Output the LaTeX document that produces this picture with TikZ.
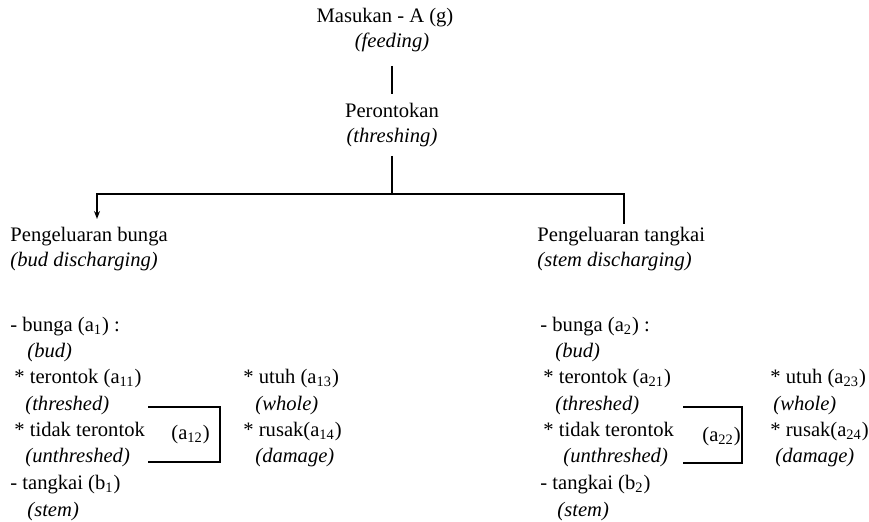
\documentclass[tikz,border=0pt]{standalone}
\usepackage{fontspec}
\setmainfont{Liberation Serif}
\usetikzlibrary{arrows.meta}

\begin{document}
\begin{tikzpicture}[x=0.5pt,y=-0.5pt,
  txt/.style={anchor=base west, inner sep=0pt, font=\fontsize{10.3}{12}\selectfont},
  mid/.style={anchor=base, inner sep=0pt, font=\fontsize{10.3}{12}\selectfont},
  line/.style={line width=0.9pt}]
  \useasboundingbox (0,0) rectangle (869,522);

  % the top of the tree
  \node[mid] (in) at (385,23) {Masukan - A (g)};
  \node[mid] (feed) at (392,48) {\textit{(feeding)}};
  \node[mid] (thr) at (392,118) {Perontokan};
  \node[mid] (thrE) at (392,143) {\textit{(threshing)}};

  % the two branches
  \node[txt] (lhead) at (10,242) {Pengeluaran bunga};
  \node[txt] (lheadE) at (10,267) {\textit{(bud discharging)}};
  \node[txt] (rhead) at (537,242) {Pengeluaran tangkai};
  \node[txt] (rheadE) at (537,267) {\textit{(stem discharging)}};

  % left list
  \node[txt] (l1) at (10,332) {- bunga (a\textsubscript{1}) :};
  \node[txt] (l1E) at (27,358) {\textit{(bud)}};
  \node[txt] (l11) at (14,384) {* terontok (a\textsubscript{11})};
  \node[txt] (l11E) at (25,411) {\textit{(threshed)}};
  \node[txt] (l12) at (14,437) {* tidak terontok};
  \node[txt] (l12E) at (25,463) {\textit{(unthreshed)}};
  \node[txt] (l2) at (10,490) {- tangkai (b\textsubscript{1})};
  \node[txt] (l2E) at (27,517) {\textit{(stem)}};
  \node[txt] (la12) at (171,440) {(a\textsubscript{12})};
  \node[txt] (l13) at (243,384) {* utuh (a\textsubscript{13})};
  \node[txt] (l13E) at (255,411) {\textit{(whole)}};
  \node[txt] (l14) at (243,437) {* rusak(a\textsubscript{14})};
  \node[txt] (l14E) at (255,463) {\textit{(damage)}};

  % right list
  \node[txt] (r1) at (540,332) {- bunga (a\textsubscript{2}) :};
  \node[txt] (r1E) at (555,358) {\textit{(bud)}};
  \node[txt] (r21) at (543,384) {* terontok (a\textsubscript{21})};
  \node[txt] (r21E) at (555,411) {\textit{(threshed)}};
  \node[txt] (r22) at (543,437) {* tidak terontok};
  \node[txt] (r22E) at (563,463) {\textit{(unthreshed)}};
  \node[txt] (r2) at (540,490) {- tangkai (b\textsubscript{2})};
  \node[txt] (r2E) at (557,517) {\textit{(stem)}};
  \node[txt] (ra22) at (702,442) {(a\textsubscript{22})};
  \node[txt] (r23) at (770,384) {* utuh (a\textsubscript{23})};
  \node[txt] (r23E) at (773,411) {\textit{(whole)}};
  \node[txt] (r24) at (770,437) {* rusak(a\textsubscript{24})};
  \node[txt] (r24E) at (775,463) {\textit{(damage)}};

  % ends of the lines
  \coordinate (join) at (392,194);
  \coordinate (lend) at (97,219);
  \coordinate (rend) at (624,224);
  \coordinate (lb1) at (148,407);
  \coordinate (lb2) at (148,462);
  \coordinate (rb1) at (683,407);
  \coordinate (rb2) at (683,463);

  % draw the lines
  \draw[line, shorten <=6.5pt, shorten >=4.5pt] (feed) -- (thr);
  \draw[line, shorten <=4pt] (thrE.south) -- (join);
  \draw[line, line width=1.3pt] (lend |- join) -- (rend |- join);
  \draw[line, -{Stealth[length=4pt,width=3pt]}] (join) -| (lend);
  \draw[line] (join) -| (rend);
  \draw[line] (lb1) -- ++(72,0) |- (lb2);
  \draw[line] (rb1) -- ++(59,0) |- (rb2);
\end{tikzpicture}
\end{document}
